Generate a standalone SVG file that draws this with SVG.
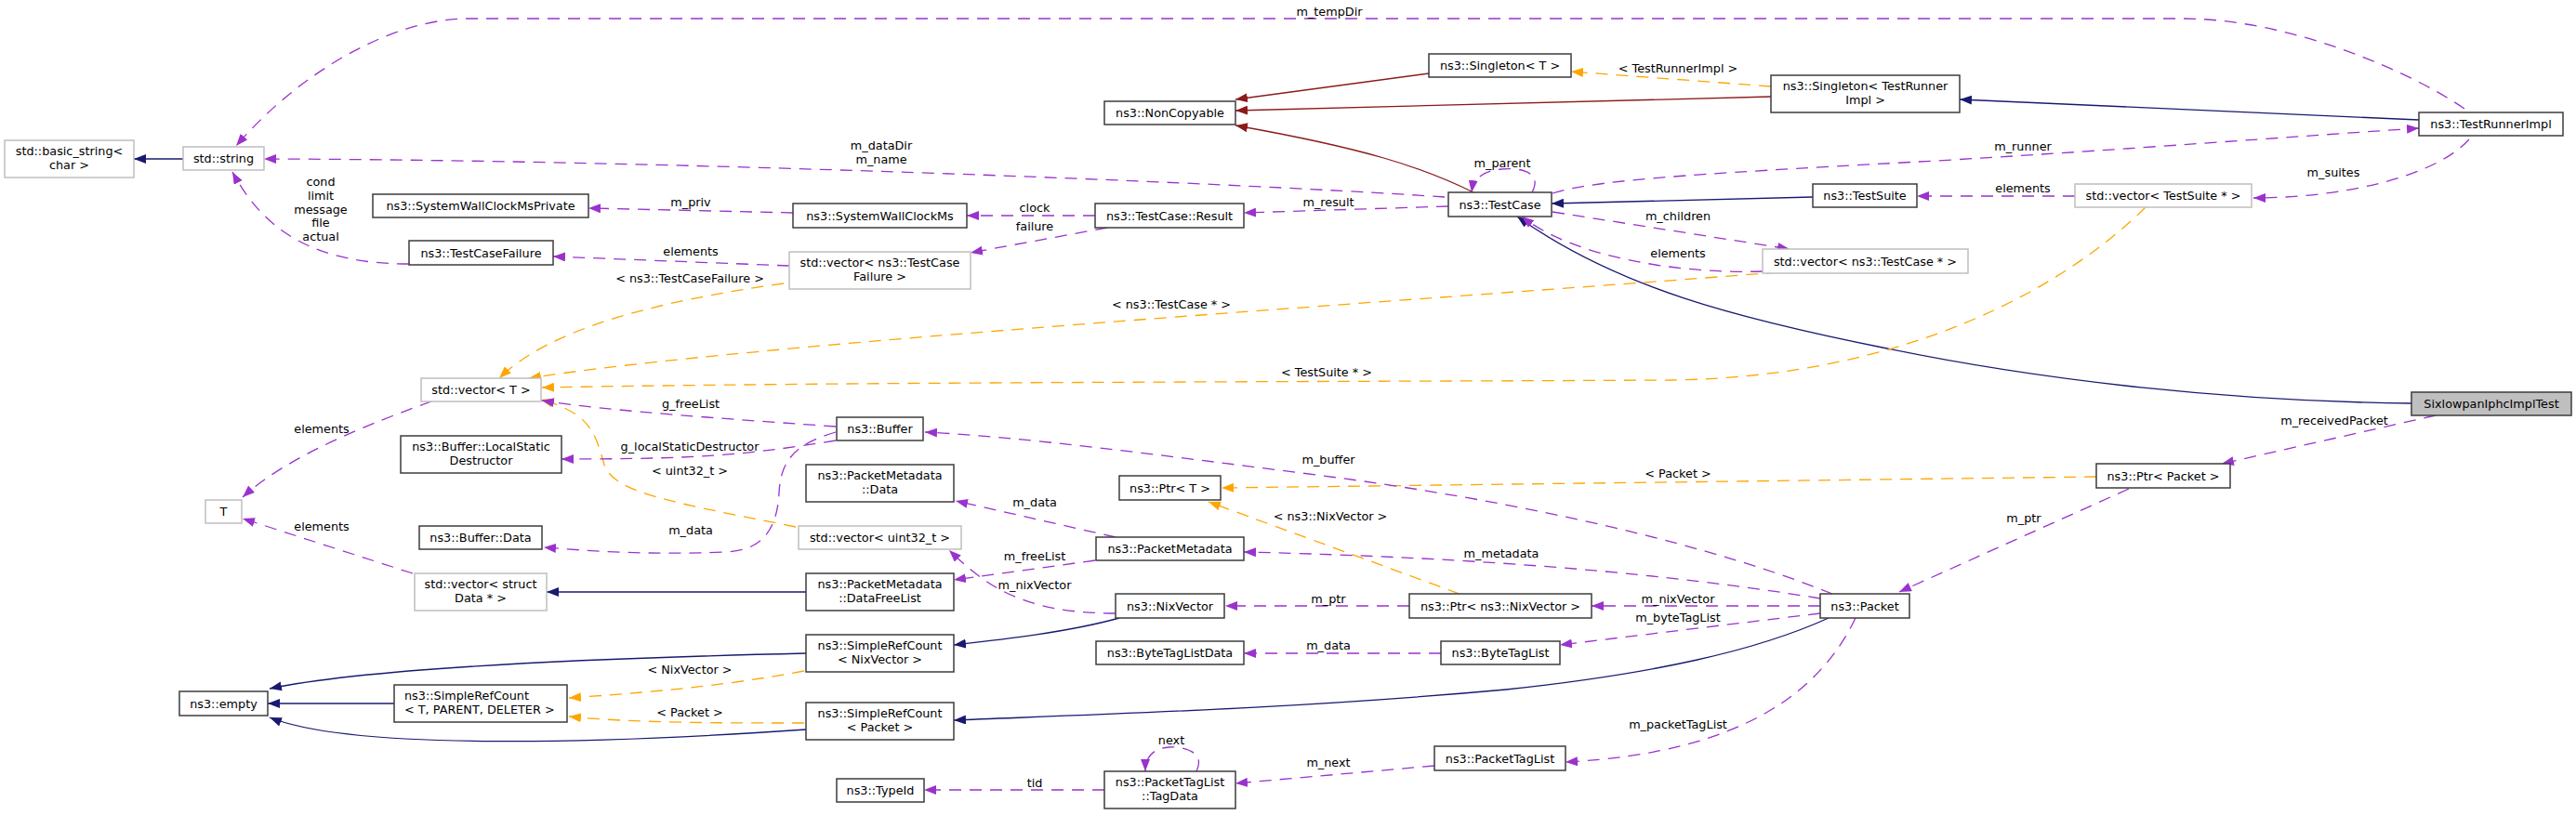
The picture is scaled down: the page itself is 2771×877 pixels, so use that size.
<svg xmlns="http://www.w3.org/2000/svg" width="2771" height="877" viewBox="0 0 2771 877">
<style>
text{font-family:"DejaVu Sans","Liberation Sans",sans-serif;font-size:12.8px;fill:#000;text-anchor:middle}
.node rect{fill:#fff;stroke:#3c3c3c;stroke-width:1.5}
.node.u rect{stroke:#bfbfbf}
.node.main rect{fill:#bfbfbf}
.e{fill:none;stroke-width:1.3}
.p{stroke:#9a32cd;stroke-dasharray:13,9}
.o{stroke:#ffa500;stroke-dasharray:13,9}
.b{stroke:#191970}
.r{stroke:#8b1a1a}
</style>
<defs>
<marker id="mp" viewBox="0 0 13 10" refX="13" refY="5" markerWidth="13" markerHeight="10" markerUnits="userSpaceOnUse" orient="auto"><path d="M0,0L13,5L0,10z" fill="#9a32cd"/></marker>
<marker id="mo" viewBox="0 0 13 10" refX="13" refY="5" markerWidth="13" markerHeight="10" markerUnits="userSpaceOnUse" orient="auto"><path d="M0,0L13,5L0,10z" fill="#ffa500"/></marker>
<marker id="mb" viewBox="0 0 13 10" refX="13" refY="5" markerWidth="13" markerHeight="10" markerUnits="userSpaceOnUse" orient="auto"><path d="M0,0L13,5L0,10z" fill="#191970"/></marker>
<marker id="mr" viewBox="0 0 13 10" refX="13" refY="5" markerWidth="13" markerHeight="10" markerUnits="userSpaceOnUse" orient="auto"><path d="M0,0L13,5L0,10z" fill="#8b1a1a"/></marker>
</defs>
<rect width="2771" height="877" fill="#fff"/>
<g id="connectors">
<path class="e b" marker-end="url(#mb)" d="M197,171L144,171"/>
<path class="e b" marker-end="url(#mb)" d="M1950,212L1669,219"/>
<path class="e b" marker-end="url(#mb)" d="M2594,434C2400,432 2200,410 2030,375C1870,343 1740,310 1632,233"/>
<path class="e b" marker-end="url(#mb)" d="M2602,129L2108,107"/>
<path class="e b" marker-end="url(#mb)" d="M867,637L588,637"/>
<path class="e b" marker-end="url(#mb)" d="M424,757L288,757"/>
<path class="e b" marker-end="url(#mb)" d="M867,703C650,708 400,718 290,741"/>
<path class="e b" marker-end="url(#mb)" d="M867,785C650,800 380,808 290,772"/>
<path class="e b" marker-end="url(#mb)" d="M1204,665C1150,680 1080,688 1026,694"/>
<path class="e b" marker-end="url(#mb)" d="M1967,665C1890,700 1780,725 1620,742C1400,762 1200,768 1026,775"/>
<path class="e r" marker-end="url(#mr)" d="M1537,79L1329,107"/>
<path class="e r" marker-end="url(#mr)" d="M1905,104L1329,119"/>
<path class="e r" marker-end="url(#mr)" d="M1585,207C1530,180 1470,160 1329,135"/>
<path class="e o" marker-end="url(#mo)" d="M1905,93L1690,77"/>
<path class="e o" marker-end="url(#mo)" d="M843,305C700,325 590,355 537,407"/>
<path class="e o" marker-end="url(#mo)" d="M1913,293C1500,325 800,370 569,407"/>
<path class="e o" marker-end="url(#mo)" d="M2308,223C2220,310 2050,405 1800,409C1400,411 900,411 583,417"/>
<path class="e o" marker-end="url(#mo)" d="M2255,513L1314,525"/>
<path class="e o" marker-end="url(#mo)" d="M1570,639L1300,540"/>
<path class="e o" marker-end="url(#mo)" d="M865,722C780,738 700,745 612,751"/>
<path class="e o" marker-end="url(#mo)" d="M865,778C780,778 680,778 612,771"/>
<path class="e o" marker-end="url(#mo)" d="M856,567C720,540 660,530 650,500C640,465 635,445 582,430"/>
<path class="e p" marker-end="url(#mp)" d="M2651,117C2590,75 2460,20 2348,20L504,20C420,20 320,80 254,157"/>
<path class="e p" marker-end="url(#mp)" d="M1554,212C1300,195 700,172 284,171"/>
<path class="e p" marker-end="url(#mp)" d="M440,284C340,284 285,250 250,185"/>
<path class="e p" marker-end="url(#mp)" d="M853,229L633,224"/>
<path class="e p" marker-end="url(#mp)" d="M849,286L595,276"/>
<path class="e p" marker-end="url(#mp)" d="M1178,232L1040,232"/>
<path class="e p" marker-end="url(#mp)" d="M1191,245L1044,272"/>
<path class="e p" marker-end="url(#mp)" d="M1558,222L1338,229"/>
<path class="e p" marker-end="url(#mp)" d="M1648,207C1660,185 1635,180 1615,182C1595,184 1585,192 1583,207"/>
<path class="e p" marker-end="url(#mp)" d="M1670,208C1720,192 1850,186 2100,172C2300,160 2450,148 2602,138"/>
<path class="e p" marker-end="url(#mp)" d="M1670,228L1925,268"/>
<path class="e p" marker-end="url(#mp)" d="M1896,292C1800,295 1690,275 1637,233"/>
<path class="e p" marker-end="url(#mp)" d="M2656,150C2620,190 2520,213 2424,213"/>
<path class="e p" marker-end="url(#mp)" d="M2232,211L2062,211"/>
<path class="e p" marker-end="url(#mp)" d="M2620,447L2390,499"/>
<path class="e p" marker-end="url(#mp)" d="M2290,526L2043,637"/>
<path class="e p" marker-end="url(#mp)" d="M464,432C400,455 310,490 261,535"/>
<path class="e p" marker-end="url(#mp)" d="M444,617L261,558"/>
<path class="e p" marker-end="url(#mp)" d="M899,459C800,452 650,442 583,431"/>
<path class="e p" marker-end="url(#mp)" d="M899,474C800,490 750,494 604,494"/>
<path class="e p" marker-end="url(#mp)" d="M899,465C855,478 840,495 838,530C836,575 815,593 780,594C700,597 650,594 585,589"/>
<path class="e p" marker-end="url(#mp)" d="M1971,639C1850,590 1650,540 1400,509C1250,490 1100,470 995,465"/>
<path class="e p" marker-end="url(#mp)" d="M1200,578L1028,539"/>
<path class="e p" marker-end="url(#mp)" d="M1178,603L1026,624"/>
<path class="e p" marker-end="url(#mp)" d="M1200,660C1100,660 1060,630 1021,592"/>
<path class="e p" marker-end="url(#mp)" d="M1958,644C1800,618 1600,600 1338,594"/>
<path class="e p" marker-end="url(#mp)" d="M1516,652L1318,652"/>
<path class="e p" marker-end="url(#mp)" d="M1958,652L1712,652"/>
<path class="e p" marker-end="url(#mp)" d="M1958,660L1678,694"/>
<path class="e p" marker-end="url(#mp)" d="M1550,703L1338,703"/>
<path class="e p" marker-end="url(#mp)" d="M1996,665C1960,740 1880,810 1684,820"/>
<path class="e p" marker-end="url(#mp)" d="M1543,824L1329,843"/>
<path class="e p" marker-end="url(#mp)" d="M1188,850L994,850"/>
<path class="e p" marker-end="url(#mp)" d="M1287,830C1297,810 1275,803 1258,804C1240,805 1232,815 1232,830"/>
<g id="edge-labels">
<text x="1430" y="17">m_tempDir</text>
<text x="1805" y="78">&lt; TestRunnerImpl &gt;</text>
<text x="948" y="161">m_dataDir</text>
<text x="948" y="176">m_name</text>
<text x="345" y="200">cond</text>
<text x="345" y="215">limit</text>
<text x="345" y="230">message</text>
<text x="345" y="244">file</text>
<text x="345" y="259">actual</text>
<text x="743" y="222">m_priv</text>
<text x="743" y="275">elements</text>
<text x="742" y="304">&lt; ns3::TestCaseFailure &gt;</text>
<text x="1113" y="228">clock</text>
<text x="1113" y="248">failure</text>
<text x="1429" y="222">m_result</text>
<text x="1616" y="180">m_parent</text>
<text x="2176" y="162">m_runner</text>
<text x="1805" y="237">m_children</text>
<text x="1805" y="277">elements</text>
<text x="2510" y="190">m_suites</text>
<text x="2176" y="207">elements</text>
<text x="1260" y="332">&lt; ns3::TestCase * &gt;</text>
<text x="1427" y="405">&lt; TestSuite * &gt;</text>
<text x="743" y="439">g_freeList</text>
<text x="346" y="466">elements</text>
<text x="346" y="571">elements</text>
<text x="742" y="485">g_localStaticDestructor</text>
<text x="742" y="511">&lt; uint32_t &gt;</text>
<text x="743" y="575">m_data</text>
<text x="742" y="725">&lt; NixVector &gt;</text>
<text x="742" y="771">&lt; Packet &gt;</text>
<text x="1429" y="499">m_buffer</text>
<text x="1805" y="514">&lt; Packet &gt;</text>
<text x="1431" y="560">&lt; ns3::NixVector &gt;</text>
<text x="1113" y="545">m_data</text>
<text x="1113" y="603">m_freeList</text>
<text x="1113" y="634">m_nixVector</text>
<text x="1615" y="600">m_metadata</text>
<text x="1429" y="649">m_ptr</text>
<text x="1805" y="649">m_nixVector</text>
<text x="1805" y="669">m_byteTagList</text>
<text x="1429" y="699">m_data</text>
<text x="1805" y="784">m_packetTagList</text>
<text x="1429" y="825">m_next</text>
<text x="1113" y="847">tid</text>
<text x="1260" y="801">next</text>
<text x="2511" y="457">m_receivedPacket</text>
<text x="2177" y="562">m_ptr</text>
</g>
</g>
<g id="n_basic_string" class="node u"><rect x="5" y="151" width="139" height="40"/><text x="74.5" y="167">std::basic_string&lt;</text><text x="74.5" y="182">char &gt;</text></g>
<g id="n_string" class="node u"><rect x="197" y="158" width="87" height="25"/><text x="240.5" y="175">std::string</text></g>
<g id="n_swcmp" class="node"><rect x="401" y="209" width="232" height="25"/><text x="517" y="226">ns3::SystemWallClockMsPrivate</text></g>
<g id="n_tcf" class="node"><rect x="440" y="259" width="155" height="26"/><text x="517.5" y="276.5">ns3::TestCaseFailure</text></g>
<g id="n_vector_t" class="node u"><rect x="453" y="407" width="129" height="25"/><text x="517.5" y="424">std::vector&lt; T &gt;</text></g>
<g id="n_t" class="node u"><rect x="221" y="538" width="39" height="25"/><text x="240.5" y="555">T</text></g>
<g id="n_lsd" class="node"><rect x="431" y="469" width="173" height="40"/><text x="517.5" y="485">ns3::Buffer::LocalStatic</text><text x="517.5" y="500">Destructor</text></g>
<g id="n_buffer_data" class="node"><rect x="451" y="566" width="132" height="25"/><text x="517" y="583">ns3::Buffer::Data</text></g>
<g id="n_vector_data" class="node u"><rect x="446" y="617" width="142" height="40"/><text x="517" y="633">std::vector&lt; struct</text><text x="517" y="648">Data * &gt;</text></g>
<g id="n_empty" class="node"><rect x="193" y="744" width="95" height="26"/><text x="240.5" y="761.5">ns3::empty</text></g>
<g id="n_src_tpd" class="node"><rect x="424" y="737" width="186" height="40"/><text x="435" y="753" style="text-anchor:start">ns3::SimpleRefCount</text><text x="435" y="768" style="text-anchor:start">&lt; T, PARENT, DELETER &gt;</text></g>
<g id="n_noncopyable" class="node"><rect x="1188" y="109" width="141" height="25"/><text x="1258.5" y="126">ns3::NonCopyable</text></g>
<g id="n_swcm" class="node"><rect x="853" y="219" width="187" height="26"/><text x="946.5" y="236.5">ns3::SystemWallClockMs</text></g>
<g id="n_result" class="node"><rect x="1178" y="219" width="160" height="26"/><text x="1258" y="236.5">ns3::TestCase::Result</text></g>
<g id="n_vector_tcf" class="node u"><rect x="849" y="271" width="195" height="40"/><text x="946.5" y="287">std::vector&lt; ns3::TestCase</text><text x="946.5" y="302">Failure &gt;</text></g>
<g id="n_singleton_t" class="node"><rect x="1537" y="58" width="153" height="25"/><text x="1613.5" y="75">ns3::Singleton&lt; T &gt;</text></g>
<g id="n_singleton_tri" class="node"><rect x="1905" y="81" width="203" height="40"/><text x="2006.5" y="97">ns3::Singleton&lt; TestRunner</text><text x="2006.5" y="112">Impl &gt;</text></g>
<g id="n_testcase" class="node"><rect x="1558" y="207" width="111" height="26"/><text x="1613.5" y="224.5">ns3::TestCase</text></g>
<g id="n_testsuite" class="node"><rect x="1950" y="198" width="112" height="25"/><text x="2006" y="215">ns3::TestSuite</text></g>
<g id="n_vector_tc" class="node u"><rect x="1896" y="268" width="221" height="26"/><text x="2006.5" y="285.5">std::vector&lt; ns3::TestCase * &gt;</text></g>
<g id="n_tri" class="node"><rect x="2602" y="121" width="155" height="25"/><text x="2679.5" y="138">ns3::TestRunnerImpl</text></g>
<g id="n_vector_ts" class="node u"><rect x="2232" y="198" width="190" height="25"/><text x="2327" y="215">std::vector&lt; TestSuite * &gt;</text></g>
<g id="n_sixlowpan" class="node main"><rect x="2594" y="422" width="172" height="25"/><text x="2680" y="439">SixlowpanIphcImplTest</text></g>
<g id="n_buffer" class="node"><rect x="900" y="449" width="93" height="25"/><text x="946.5" y="466">ns3::Buffer</text></g>
<g id="n_pm_data" class="node"><rect x="867" y="500" width="159" height="40"/><text x="946.5" y="516">ns3::PacketMetadata</text><text x="946.5" y="531">::Data</text></g>
<g id="n_vector_u32" class="node u"><rect x="859" y="566" width="175" height="25"/><text x="946.5" y="583">std::vector&lt; uint32_t &gt;</text></g>
<g id="n_pm_dfl" class="node"><rect x="867" y="617" width="159" height="40"/><text x="946.5" y="633">ns3::PacketMetadata</text><text x="946.5" y="648">::DataFreeList</text></g>
<g id="n_src_nix" class="node"><rect x="867" y="683" width="159" height="40"/><text x="946.5" y="699">ns3::SimpleRefCount</text><text x="946.5" y="714">&lt; NixVector &gt;</text></g>
<g id="n_src_packet" class="node"><rect x="867" y="756" width="159" height="40"/><text x="946.5" y="772">ns3::SimpleRefCount</text><text x="946.5" y="787">&lt; Packet &gt;</text></g>
<g id="n_typeid" class="node"><rect x="900" y="838" width="94" height="25"/><text x="947" y="855">ns3::TypeId</text></g>
<g id="n_ptr_t" class="node"><rect x="1204" y="512" width="109" height="26"/><text x="1258.5" y="529.5">ns3::Ptr&lt; T &gt;</text></g>
<g id="n_pm" class="node"><rect x="1179" y="578" width="159" height="25"/><text x="1258.5" y="595">ns3::PacketMetadata</text></g>
<g id="n_nixvector" class="node"><rect x="1200" y="639" width="117" height="26"/><text x="1258.5" y="656.5">ns3::NixVector</text></g>
<g id="n_btld" class="node"><rect x="1179" y="690" width="159" height="25"/><text x="1258.5" y="707">ns3::ByteTagListData</text></g>
<g id="n_tagdata" class="node"><rect x="1188" y="830" width="141" height="40"/><text x="1258.5" y="846">ns3::PacketTagList</text><text x="1258.5" y="861">::TagData</text></g>
<g id="n_ptr_nix" class="node"><rect x="1516" y="639" width="196" height="26"/><text x="1614" y="656.5">ns3::Ptr&lt; ns3::NixVector &gt;</text></g>
<g id="n_packet" class="node"><rect x="1958" y="639" width="96" height="26"/><text x="2006" y="656.5">ns3::Packet</text></g>
<g id="n_btl" class="node"><rect x="1550" y="690" width="128" height="25"/><text x="1614" y="707">ns3::ByteTagList</text></g>
<g id="n_ptl" class="node"><rect x="1543" y="803" width="141" height="26"/><text x="1613.5" y="820.5">ns3::PacketTagList</text></g>
<g id="n_ptr_packet" class="node"><rect x="2255" y="499" width="144" height="26"/><text x="2327" y="516.5">ns3::Ptr&lt; Packet &gt;</text></g>
</svg>
